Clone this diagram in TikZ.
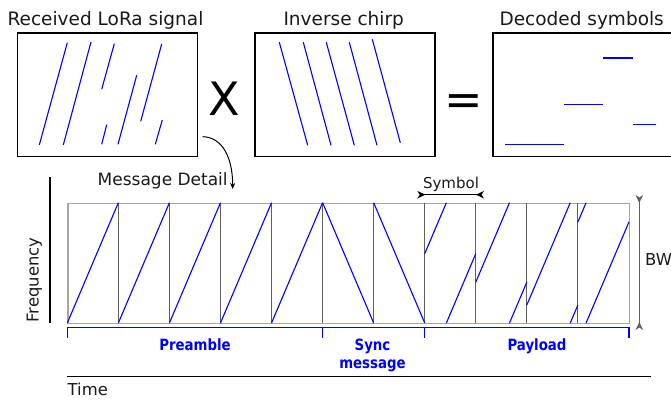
\documentclass[tikz,border=0pt]{standalone}
\usepackage{fontspec}
\setmainfont{DejaVu Sans}
\newfontfamily\partfont[FakeStretch=0.86]{DejaVu Sans}
\usetikzlibrary{arrows.meta}
\definecolor{framegray}{RGB}{165,165,165}
\definecolor{sepgray}{RGB}{95,95,95}
\definecolor{sigblue}{RGB}{0,0,255}
\definecolor{inkgray}{RGB}{25,25,25}

\begin{document}
\begin{tikzpicture}[x=1pt,y=-1pt,
  panel/.style={draw=black, line width=1.2pt, inner sep=0pt, anchor=north west},
  sig/.style={draw=sigblue, line width=1.1pt},
  title/.style={anchor=base, text=inkgray, inner sep=0pt, font=\fontsize{18.5}{20}\selectfont},
  lbl/.style={anchor=base, text=inkgray, inner sep=0pt, font=\fontsize{16.4}{18}\selectfont},
  part/.style={anchor=base, text=sigblue, inner sep=0pt, align=center,
               font=\partfont\bfseries\fontsize{15.5}{18.3}\selectfont},
  opsym/.style={anchor=base, inner sep=0pt, font=\fontsize{46}{50}\selectfont},
  dimtip/.tip={Stealth[reversed,length=8pt,width=7.5pt,inset=2.5pt]},
  dimtips/.style={dimtip-dimtip},
]
\useasboundingbox (0,0) rectangle (671,399);

% ---------- top row: received signal x inverse chirp = decoded symbols
\node[panel, minimum width=180pt, minimum height=123.7pt] (rx)  at (16.7,32.3) {};
\node[panel, minimum width=180pt, minimum height=123.7pt] (inv) at (254.3,32.3) {};
\node[panel, minimum width=181pt, minimum height=123.7pt] (dec) at (492.3,32.3) {};

\node[title] (rxt)  at (105.5,25) {Received LoRa signal};
\node[title] (invt) at (343.7,25) {Inverse chirp};
\node[title] (dect) at (581.7,25) {Decoded symbols};

\node[opsym] (times)  at (224,115) {X};
\node[opsym] (equals) at (463.5,115) {=};

% received LoRa signal: wrapped up-chirps
\draw[sig] (39.3,145)   -- (67.3,42.7);
\draw[sig] (63.3,145)   -- (91,42);
\draw[sig] (101.7,89.3) -- (114.3,43.7);
\draw[sig] (101.7,144.3)-- (106.7,124.7);
\draw[sig] (118,144.3)  -- (136.7,75.3);
\draw[sig] (140.7,121.3)-- (161.7,44);
\draw[sig] (155.3,144.3)-- (162.3,120);

% inverse chirp: down-chirps
\draw[sig] (279.3,42.3) -- (307.7,145.3);
\draw[sig] (303.3,42.3) -- (331,145.3);
\draw[sig] (326.3,42.3) -- (354.3,145.3);
\draw[sig] (349.3,42.3) -- (377,145.3);
\draw[sig] (372.3,39.3) -- (400.3,142.7);

% decoded symbols: constant tones
\draw[sig] (603.3,58)    -- (632.7,58);
\draw[sig] (564,104.3)   -- (603.3,104.3);
\draw[sig] (632.7,124.3) -- (655.7,124.3);
\draw[sig] (505,144.7)   -- (563.7,144.7);

% ---------- message detail
\coordinate (from) at (202.7,136.7);
\node[lbl, font=\fontsize{17}{19}\selectfont] (detail) at (162.7,185) {Message Detail};
\coordinate (to) at (232.7,189);
\draw[line width=1pt, -{Stealth[length=6pt,width=5pt]}]
  (from) .. controls (219,137) and (232.5,152) .. (to);

\def\xo{67.3}
\def\w{51.06}
\def\yt{202.7}
\def\yb{323}

\node[draw=framegray, line width=1.2pt, inner sep=0pt, anchor=north west,
      minimum width=561.6pt, minimum height=120.3pt] (frame) at (\xo,\yt) {};
\foreach \i in {1,...,10}{
  \pgfmathsetmacro\xs{\xo+\i*\w}
  \draw[sepgray, line width=1.1pt] (\xs,\yt) -- (\xs,\yb);
}

% preamble: up-chirps
\foreach \i in {0,...,4}{
  \pgfmathsetmacro\xa{\xo+\i*\w}
  \pgfmathsetmacro\xb{\xo+(\i+1)*\w}
  \draw[sig] (\xa,\yb) -- (\xb,\yt);
}
% sync message: down-chirps
\foreach \i in {5,6}{
  \pgfmathsetmacro\xa{\xo+\i*\w}
  \pgfmathsetmacro\xb{\xo+(\i+1)*\w}
  \draw[sig] (\xa,\yt) -- (\xb,\yb);
}
% payload: cyclically shifted up-chirps
\foreach \i/\f in {7/0.576, 8/0.34, 9/0.15, 10/0.84}{
  \pgfmathsetmacro\xa{\xo+\i*\w}
  \pgfmathsetmacro\xm{\xa+(1-\f)*\w}
  \pgfmathsetmacro\xb{\xa+\w}
  \pgfmathsetmacro\ya{\yb-\f*(\yb-\yt)}
  \draw[sig] (\xa,\ya) -- (\xm,\yt);
  \draw[sig] (\xm,\yb) -- (\xb,\ya);
}

% part brackets
\pgfmathsetmacro\xpa{\xo+5*\w}
\pgfmathsetmacro\xpb{\xo+7*\w}
\pgfmathsetmacro\xpc{\xo+11*\w}
\draw[sigblue, line width=1.1pt]
  (\xo,337.7) -- (\xo,327.5) -- (\xpc,327.5) -- (\xpc,337.7)
  (\xpa,327.5) -- (\xpa,337.7)
  (\xpb,327.5) -- (\xpb,337.7);
\node[part] (pre)  at (195,350) {Preamble};
\node[part] (sync) at (372.5,368.3) {Sync\\message};
\node[part] (pay)  at (537,350) {Payload};

% symbol width
\node[lbl, font=\fontsize{15}{17}\selectfont] (symt) at (451,188.7) {Symbol};
\coordinate (sl) at (417.3,194.7);
\coordinate (sr) at (484,194.7);
\draw[line width=1.1pt, dimtips] (sl) -- (sr);

% bandwidth
\coordinate (bwt) at (639.3,195);
\coordinate (bwb) at (639.3,330);
\draw[sepgray, line width=1.3pt, dimtips] (bwt) -- (bwb);
\node[lbl, anchor=base west] (bw) at (645,265) {BW};

% axes
\coordinate (fa) at (50,177.3);
\coordinate (fb) at (50,323);
\draw[line width=1.2pt] (fa) -- (fb);
\node[lbl, rotate=90] (freq) at (38.6,280) {Frequency};
\coordinate (ta) at (67,376.7);
\coordinate (tb) at (651,376.7);
\draw[line width=1.2pt] (ta) -- (tb);
\node[lbl, anchor=base west] (time) at (67.5,395) {Time};
\end{tikzpicture}
\end{document}
